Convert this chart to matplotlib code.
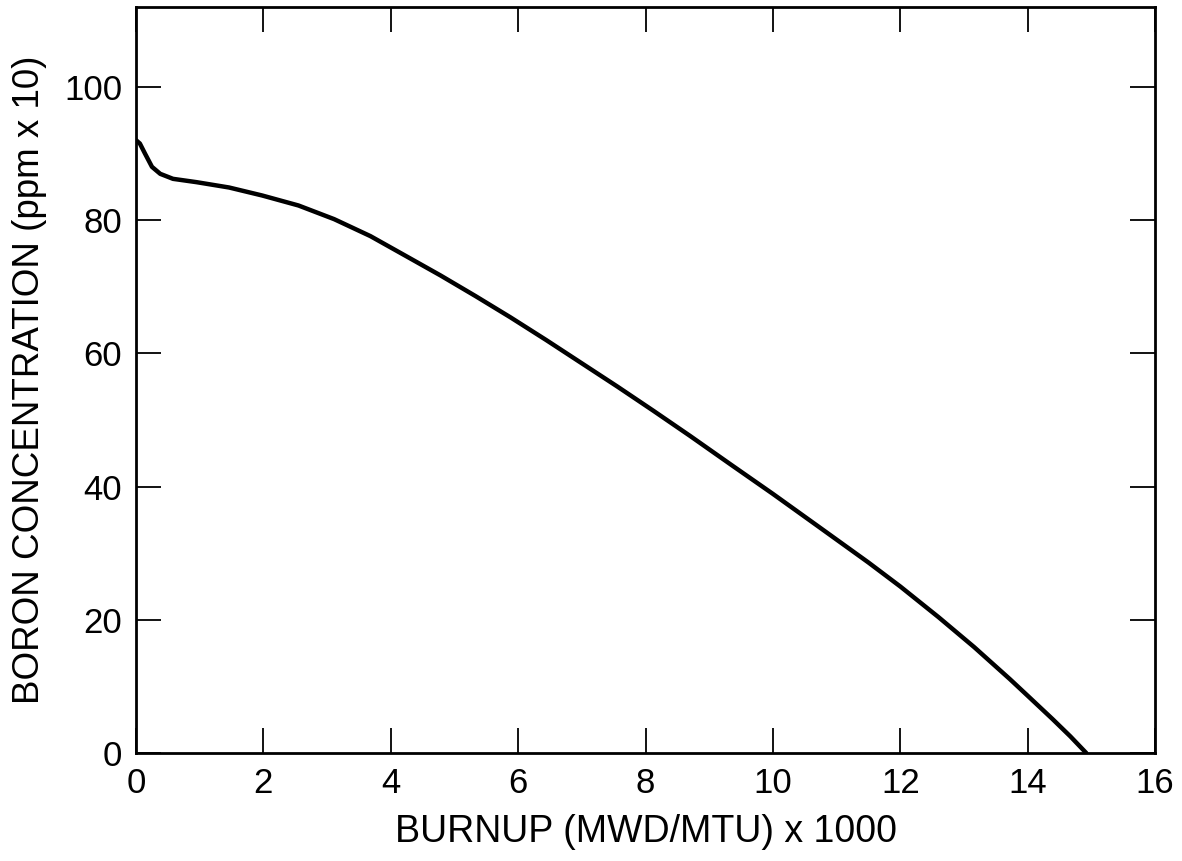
import numpy as np
import matplotlib
matplotlib.use("Agg")
import matplotlib.pyplot as plt

plt.rcParams['font.family'] = ['Liberation Sans', 'DejaVu Sans']

# Curva de boro
burnup = [0.0, 0.06, 0.14, 0.25, 0.38, 0.58, 0.95, 1.46, 1.98, 2.55, 3.11,
          3.68, 4.24, 4.78, 5.33, 5.88, 6.44, 7.0, 7.56, 8.12, 8.7, 9.34,
          10.0, 10.7, 11.5, 12.0, 12.6, 13.16, 13.72, 14.0, 14.39, 14.67, 14.92]
boron = [92.0, 91.5, 90.0, 88.0, 86.95, 86.2, 85.7, 84.9, 83.7, 82.2, 80.15,
         77.6, 74.6, 71.7, 68.6, 65.4, 62.0, 58.5, 55.0, 51.4, 47.6, 43.3,
         38.9, 34.1, 28.6, 25.0, 20.4, 15.9, 11.1, 8.6, 5.1, 2.5, 0.0]

x_ticks = [0, 2, 4, 6, 8, 10, 12, 14, 16]
y_ticks = [0, 20, 40, 60, 80, 100]

fig = plt.figure(figsize=(11.82, 8.61), dpi=100)
ax = fig.add_axes([0.1151, 0.1254, 0.8621, 0.8665])

ax.plot(burnup, boron, color='black', lw=3.2, solid_capstyle='round',
        solid_joinstyle='round')

ax.set_xlim(0, 16)
ax.set_ylim(0, 112)
ax.set_xticks(x_ticks)
ax.set_yticks(y_ticks)
ax.tick_params(direction='in', length=18, width=1.3, top=True, right=True,
               labelsize=25, pad=10, colors='black')
for s in ax.spines.values():
    s.set_linewidth(2)

ax.set_xlabel("BURNUP (MWD/MTU) x 1000", fontsize=27, labelpad=10)
ax.set_ylabel("BORON CONCENTRATION (ppm x 10)", fontsize=26.5, labelpad=12)

fig.savefig("out.png", dpi=100, facecolor='white')
